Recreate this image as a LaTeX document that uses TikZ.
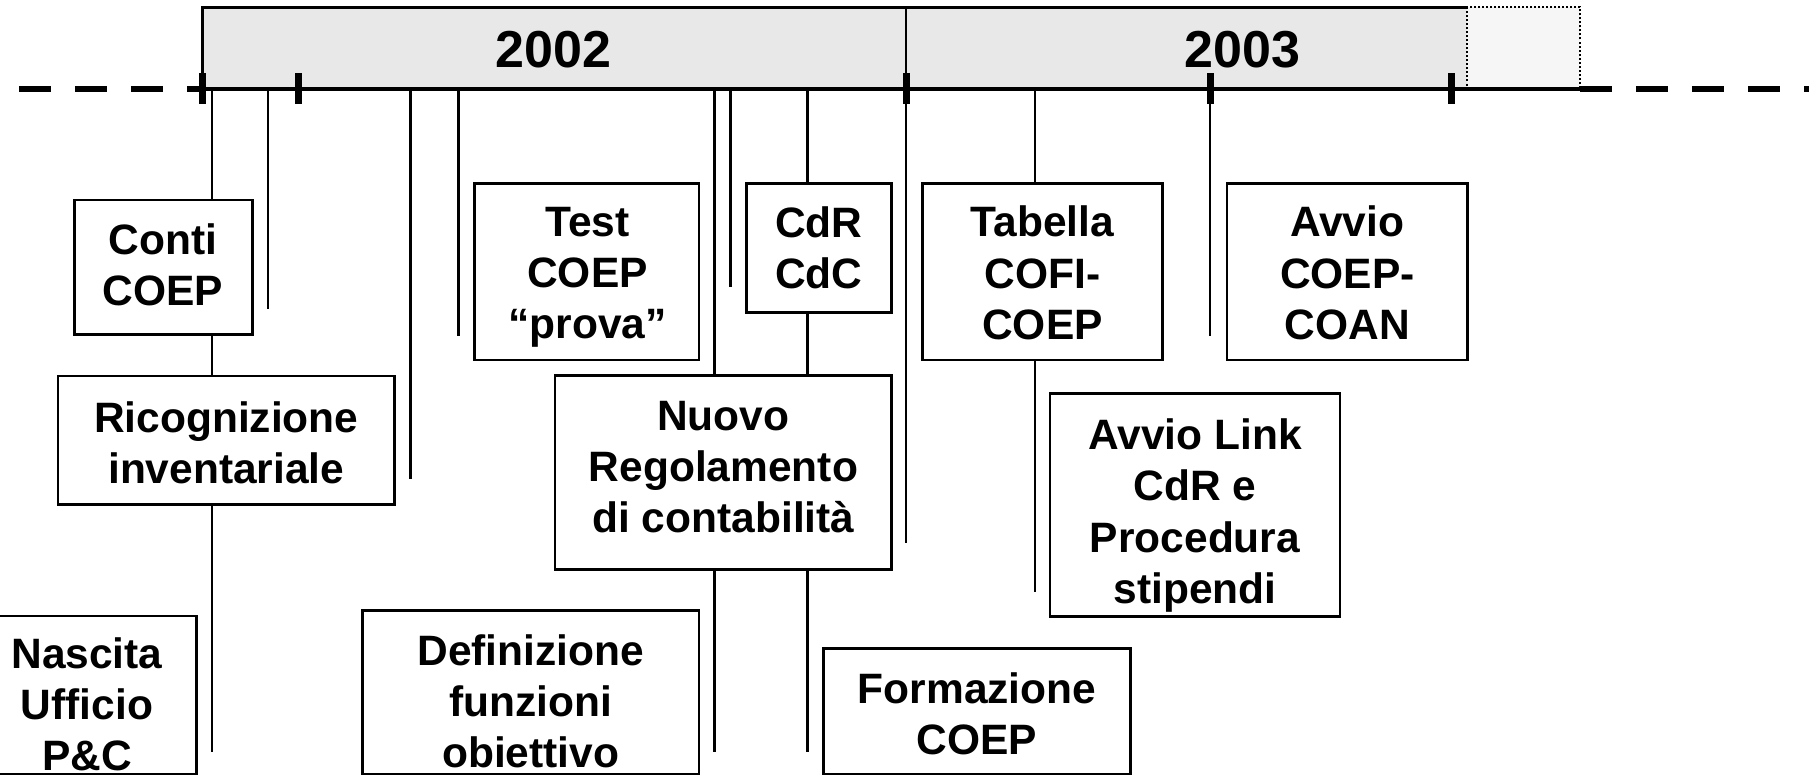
\documentclass[tikz,border=0pt]{standalone}
\usepackage{fontspec}
\setmainfont{Liberation Sans}
\definecolor{bandgray}{RGB}{232,232,232}
\definecolor{lightband}{RGB}{246,246,246}
\begin{document}
\begin{tikzpicture}[x=1pt,y=-1pt,
  box/.style={draw=black, line width=2.5pt, fill=white, inner sep=0pt},
  lbl/.style={font=\fontsize{42.5}{51.3}\selectfont\bfseries, align=center, inner sep=0pt, text depth=0pt},
  conn/.style={line width=2.5pt},
  tickmark/.style={line width=7pt},
  axisdash/.style={line width=6pt, dash pattern=on 32pt off 24pt},
  yr/.style={font=\fontsize{52}{60}\selectfont\bfseries, inner sep=0pt}]
\useasboundingbox (0,0) rectangle (1809,776);
\clip (0,0) rectangle (1809,776);

% band
\fill[bandgray] (202.5,7.5) rectangle (1467,89);
\filldraw[fill=lightband, draw=black, line width=2pt, dash pattern=on 2pt off 2pt] (1467,7.5) rectangle (1580,89);
\draw[line width=2.5pt] (202.5,89) -- (202.5,7.5) -- (1467,7.5);
\node[yr] (y2002) at (553.6,49.4) {2002};
\node[yr] (y2003) at (1242.6,49.4) {2003};

% axis
\coordinate (axL) at (19,89);
\coordinate (axA) at (202.5,89);
\coordinate (axB) at (1580,89);
\coordinate (axR) at (1809,89);
\draw[line width=4pt] (axA) -- (axB);
\draw[axisdash] (axL) -- (axA);
\draw[axisdash] (axB) -- (axR);

% ticks
\foreach \tx/\tn in {202.5/k1,298.5/k2,906.4/k3,1210/k4,1451/k5}{
  \coordinate (\tn t) at (\tx,73);
  \coordinate (\tn b) at (\tx,104);
  \draw[tickmark] (\tn t) -- (\tn b);
}

% event lines
\foreach \lx/\ly/\ln in {212/752/e1,268/309/e2,410.4/479/e3,458.7/336/e4,714.7/752/e5,730.5/287/e6,807.6/752/e7,1035/592/e9,1210/336/e10}{
  \coordinate (\ln s) at (\lx,89);
  \coordinate (\ln e) at (\lx,\ly);
  \draw[conn] (\ln s) -- (\ln e);
}
\coordinate (e8s) at (906.4,7.5);
\coordinate (e8e) at (906.4,543);
\draw[line width=2pt] (e8s) -- (e8e);

% boxes
\node[box, minimum width=178pt, minimum height=134.5pt] (conti) at (163.3,267.3) {};
\node[lbl] (contitxt) at (163,264.5) {Conti\\COEP};
\node[box, minimum width=336.6pt, minimum height=128.3pt] (ricog) at (226.3,440.2) {};
\node[lbl] (ricogtxt) at (226.3,442.5) {Ricognizione\\inventariale};
\node[box, minimum width=224.3pt, minimum height=176.7pt] (test) at (586.7,271.7) {};
\node[lbl] (testtxt) at (587.5,272.8) {Test\\COEP\\“prova”};
\node[box, minimum width=145.1pt, minimum height=129pt] (cdr) at (818.9,247.8) {};
\node[lbl] (cdrtxt) at (818.9,247.5) {CdR\\CdC};
\node[box, minimum width=336.4pt, minimum height=193.6pt] (nuovo) at (723.2,472.5) {};
\node[lbl] (nuovotxt) at (723.4,466.7) {Nuovo\\Regolamento\\di contabilità};
\node[box, minimum width=240.4pt, minimum height=176.7pt] (tabella) at (1042.5,271.7) {};
\node[lbl] (tabellatxt) at (1042.5,272.8) {Tabella\\COFI-\\COEP};
\node[box, minimum width=290pt, minimum height=223.4pt] (link) at (1195,505) {};
\node[lbl] (linktxt) at (1195,511) {Avvio Link\\CdR e\\Procedura\\stipendi};
\node[box, minimum width=240.6pt, minimum height=176.7pt] (coan) at (1347.3,271.7) {};
\node[lbl] (coantxt) at (1347.3,272.8) {Avvio\\COEP-\\COAN};

% bottom boxes (cut by the lower edge)
\node[box, minimum width=218.5pt, minimum height=158pt] (nascita) at (87.25,695) {};
\node[lbl] (nascitatxt) at (87,704) {Nascita\\Ufficio\\P\&C};
\node[box, minimum width=336.3pt, minimum height=163.3pt] (defin) at (530.75,692.35) {};
\node[lbl] (defintxt) at (530.7,701) {Definizione\\funzioni\\obiettivo};
\node[box, minimum width=307.2pt, minimum height=125.7pt] (formaz) at (977,711.15) {};
\node[lbl] (formaztxt) at (977,713.5) {Formazione\\COEP};
\end{tikzpicture}
\end{document}
